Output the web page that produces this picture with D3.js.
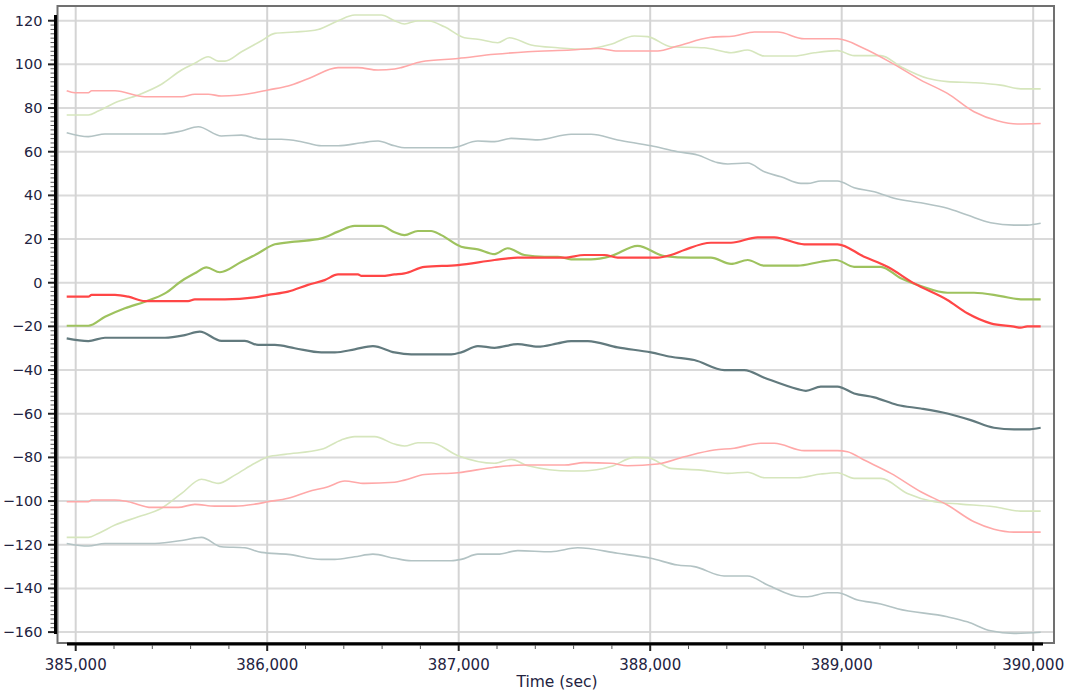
<!DOCTYPE html>
<html>
<head>
<meta charset="utf-8">
<script src="https://cdn.jsdelivr.net/npm/d3@7"></script>
<style>
  html, body { margin: 0; padding: 0; background: #ffffff; }
  svg { display: block; }
  text { font-family: "DejaVu Sans", Verdana, sans-serif; fill: #23233f; }
</style>
</head>
<body>
<svg id="chart" width="1071" height="696"></svg>
<script>
// ---------- data (time in sec, value) ----------
const xTicks = [385000, 386000, 387000, 388000, 389000, 390000];
const yTicks = [-160, -140, -120, -100, -80, -60, -40, -20, 0, 20, 40, 60, 80, 100, 120];
const xLabel = "Time (sec)";

const redMid = [[384953,-6.4],[385066,-6.4],[385083,-5.6],[385205,-5.6],[385275,-6.4],[385361,-8.4],[385587,-8.4],[385622,-7.6],[385779,-7.6],[385935,-6.7],[386005,-5.6],[386109,-4.1],[386213,-1.0],[386300,1.2],[386370,3.8],[386474,3.8],[386492,3.1],[386596,3.1],[386665,3.8],[386717,4.3],[386822,7.3],[386996,8.1],[387187,10.4],[387308,11.5],[387552,11.5],[387656,12.7],[387761,12.7],[387830,11.5],[388039,11.5],[388108,12.7],[388178,15.0],[388317,18.3],[388422,18.3],[388561,20.8],[388648,20.8],[388804,17.6],[388978,17.6],[389117,11.9],[389239,7.3],[389378,-0.3],[389552,-7.9],[389656,-14.0],[389778,-18.6],[389900,-20.1],[389935,-20.6],[389969,-20.0],[390039,-20.0]];
const redUpper = [[384953,87.9],[384996,87.0],[385066,87.0],[385083,87.9],[385205,87.9],[385361,85.2],[385553,85.2],[385622,86.3],[385692,86.3],[385761,85.5],[385935,87.0],[386005,88.3],[386109,90.1],[386213,93.4],[386370,98.5],[386474,98.5],[386579,97.4],[386665,97.9],[386700,98.5],[386804,101.2],[386996,102.7],[387187,104.6],[387361,105.8],[387587,106.6],[387726,107.3],[387830,106.1],[388039,106.1],[388143,108.4],[388317,112.4],[388439,113.0],[388544,114.8],[388665,114.8],[388804,111.7],[388978,111.7],[389117,107.3],[389274,100.0],[389413,92.8],[389552,86.7],[389691,78.3],[389813,74.2],[389917,72.7],[390039,72.9]];
const redLower = [[384953,-100.3],[385066,-100.3],[385083,-99.5],[385205,-99.5],[385275,-100.3],[385396,-102.9],[385535,-102.9],[385622,-101.5],[385727,-102.3],[385831,-102.3],[385935,-101.4],[386005,-100.3],[386109,-98.7],[386213,-95.7],[386318,-93.4],[386405,-90.8],[386509,-91.9],[386665,-91.4],[386717,-90.4],[386822,-87.8],[386996,-87.0],[387187,-84.5],[387343,-83.5],[387552,-83.5],[387656,-82.4],[387795,-82.7],[387882,-83.8],[388039,-83.0],[388178,-79.7],[388334,-76.6],[388439,-75.8],[388578,-73.5],[388648,-73.5],[388804,-76.9],[388978,-76.9],[389030,-77.4],[389117,-81.2],[389257,-87.3],[389413,-95.7],[389552,-101.8],[389691,-109.5],[389795,-112.9],[389900,-114.2],[390039,-114.2]];

const greenMid = [[384953,-19.7],[385066,-19.7],[385153,-15.6],[385257,-11.7],[385361,-8.7],[385466,-4.9],[385553,0.8],[385622,4.3],[385683,7.0],[385753,4.8],[385866,9.6],[385953,13.5],[386040,17.6],[386144,18.8],[386283,20.3],[386370,23.4],[386457,26.0],[386596,26.0],[386665,23.1],[386717,21.8],[386787,23.7],[386856,23.7],[386909,21.8],[387013,16.5],[387100,15.3],[387187,13.1],[387256,15.8],[387343,12.7],[387448,11.9],[387517,11.9],[387587,10.7],[387691,10.7],[387795,12.2],[387934,16.9],[388074,12.2],[388213,11.5],[388317,11.5],[388422,8.6],[388509,10.4],[388596,7.8],[388770,7.8],[388891,9.6],[388970,10.4],[389065,7.3],[389204,7.3],[389309,2.0],[389413,-1.5],[389552,-4.6],[389691,-4.6],[389830,-6.1],[389935,-7.6],[390039,-7.6]];
const greenUpper = [[384953,76.8],[385066,76.8],[385118,78.6],[385205,82.4],[385327,86.0],[385448,90.9],[385553,97.4],[385622,100.5],[385692,103.5],[385744,101.5],[385779,101.5],[385866,105.8],[385970,110.8],[386040,114.2],[386144,114.8],[386266,116.0],[386370,120.0],[386457,122.6],[386596,122.6],[386665,120.0],[386717,118.5],[386787,120.0],[386839,120.0],[386926,117.2],[387030,112.2],[387100,111.5],[387204,109.9],[387265,112.2],[387378,108.9],[387517,107.6],[387656,106.9],[387795,109.2],[387917,113.0],[387987,112.7],[388108,108.1],[388282,107.6],[388386,105.8],[388422,105.3],[388509,106.6],[388596,103.8],[388752,103.8],[388857,105.3],[388978,106.3],[389065,104.0],[389204,104.0],[389309,98.9],[389448,93.6],[389552,92.1],[389691,91.6],[389830,90.5],[389935,88.8],[390039,88.8]];
const greenLower = [[384953,-116.6],[385066,-116.6],[385118,-114.8],[385205,-111.0],[385327,-107.2],[385448,-103.3],[385553,-96.5],[385657,-90.0],[385744,-91.9],[385831,-88.1],[385935,-82.7],[386005,-79.7],[386092,-78.6],[386283,-76.3],[386387,-72.0],[386457,-70.5],[386561,-70.5],[386665,-73.9],[386717,-74.8],[386787,-73.3],[386856,-73.3],[386996,-79.2],[387187,-82.7],[387274,-80.9],[387361,-83.8],[387587,-86.2],[387656,-86.2],[387795,-84.2],[387917,-80.0],[387987,-80.1],[388108,-85.0],[388265,-85.8],[388405,-87.3],[388509,-86.8],[388596,-89.3],[388770,-89.3],[388891,-87.6],[388978,-87.0],[389065,-89.6],[389204,-89.6],[389343,-96.5],[389483,-100.3],[389622,-101.4],[389795,-102.6],[389935,-104.6],[390039,-104.6]];

const grayMid = [[384953,-25.5],[385066,-26.7],[385153,-25.2],[385466,-25.2],[385570,-24.0],[385648,-22.4],[385761,-26.6],[385883,-26.6],[385953,-28.5],[386040,-28.5],[386144,-30.0],[386283,-31.9],[386353,-31.9],[386457,-30.5],[386552,-29.0],[386665,-31.9],[386752,-32.8],[386961,-32.8],[387013,-31.9],[387100,-29.0],[387187,-29.8],[387308,-28.1],[387413,-29.3],[387517,-27.8],[387587,-26.7],[387674,-26.7],[387830,-29.6],[388004,-31.9],[388108,-33.9],[388230,-35.4],[388387,-40.0],[388491,-40.0],[388596,-43.5],[388770,-48.7],[388813,-49.5],[388891,-47.6],[388978,-47.6],[389065,-50.7],[389170,-52.5],[389291,-56.0],[389413,-57.6],[389552,-59.9],[389674,-62.9],[389795,-66.4],[389900,-67.2],[389969,-67.2],[390039,-66.4]];
const grayUpper = [[384953,68.7],[385066,66.9],[385153,68.1],[385448,68.1],[385553,69.5],[385640,71.4],[385761,67.2],[385866,67.6],[385970,65.7],[386074,65.7],[386179,64.6],[386283,62.7],[386370,62.7],[386492,64.1],[386579,64.9],[386665,62.7],[386717,61.8],[386961,61.8],[387100,64.9],[387187,64.6],[387274,66.1],[387413,65.4],[387587,68.0],[387691,68.0],[387830,65.4],[388004,62.7],[388143,60.0],[388247,58.5],[388352,55.0],[388405,54.4],[388509,54.8],[388596,50.8],[388683,48.5],[388787,45.5],[388822,45.5],[388891,46.6],[388978,46.6],[389065,43.5],[389170,41.7],[389274,38.7],[389413,36.6],[389552,34.1],[389656,31.0],[389778,27.5],[389900,26.4],[389969,26.4],[390039,27.2]];
const grayLower = [[384953,-119.4],[385066,-120.6],[385153,-119.4],[385414,-119.4],[385570,-117.8],[385657,-116.6],[385761,-120.9],[385883,-121.4],[385970,-123.5],[386109,-124.4],[386283,-126.7],[386353,-126.7],[386457,-125.5],[386552,-124.3],[386665,-126.2],[386752,-127.3],[386961,-127.3],[387013,-126.7],[387100,-124.3],[387204,-124.3],[387308,-122.7],[387482,-123.2],[387621,-121.4],[387830,-123.9],[388004,-126.2],[388143,-129.3],[388230,-130.0],[388386,-134.3],[388509,-134.3],[388613,-138.4],[388787,-143.8],[388822,-143.8],[388926,-142.0],[388978,-142.0],[389083,-145.3],[389204,-147.1],[389291,-149.3],[389552,-153.0],[389656,-155.3],[389778,-159.4],[389900,-160.6],[390039,-160.1]];

// ---------- layout ----------
const svg = d3.select("#chart");
const plot = { left: 57.5, right: 1054, top: 6, bottom: 643 };

const x = d3.scaleLinear().domain([385000, 390000]).range([75.7, 1033.2]);
const y = d3.scaleLinear().domain([-160, 120]).range([632.1, 20.7]);

// gridlines
const grid = svg.append("g");
grid.selectAll("line.h").data(yTicks).join("line")
  .attr("x1", plot.left).attr("x2", plot.right)
  .attr("y1", d => y(d)).attr("y2", d => y(d))
  .attr("stroke", "#dadada").attr("stroke-width", 2);
grid.selectAll("line.v").data(xTicks).join("line")
  .attr("x1", d => x(d)).attr("x2", d => x(d))
  .attr("y1", plot.top).attr("y2", plot.bottom)
  .attr("stroke", "#d4d4d4").attr("stroke-width", 2);

// frame
svg.append("rect")
  .attr("x", plot.left).attr("y", plot.top)
  .attr("width", plot.right - plot.left).attr("height", plot.bottom - plot.top)
  .attr("fill", "none").attr("stroke", "#707070").attr("stroke-width", 2);

// series
const line = d3.line().curve(d3.curveMonotoneX).x(d => x(d[0])).y(d => y(d[1]));
const series = [
  { data: grayUpper, color: "#b3c3c4", w: 1.6 },
  { data: grayLower, color: "#b3c3c4", w: 1.6 },
  { data: greenUpper, color: "#d6e6bd", w: 1.6 },
  { data: greenLower, color: "#d6e6bd", w: 1.6 },
  { data: redUpper, color: "#ffa8a8", w: 1.6 },
  { data: redLower, color: "#ffa8a8", w: 1.6 },
  { data: grayMid, color: "#627a7e", w: 2.2 },
  { data: greenMid, color: "#9ec25e", w: 2.2 },
  { data: redMid, color: "#ff4646", w: 2.2 }
];
svg.append("g").selectAll("path").data(series).join("path")
  .attr("d", d => line(d.data))
  .attr("fill", "none")
  .attr("stroke", d => d.color)
  .attr("stroke-width", d => d.w)
  .attr("stroke-linejoin", "round");

// y axis
const yAxis = svg.append("g");
yAxis.append("line")
  .attr("x1", 55.5).attr("x2", 55.5).attr("y1", 15).attr("y2", 634)
  .attr("stroke", "#000").attr("stroke-width", 3);
const yMinor = d3.range(-160, 121, 2).filter(v => v % 20 !== 0);
yAxis.selectAll("line.minor").data(yMinor).join("line")
  .attr("x1", 50.5).attr("x2", 54)
  .attr("y1", d => y(d)).attr("y2", d => y(d))
  .attr("stroke", "#555").attr("stroke-width", 1);
yAxis.selectAll("line.major").data(yTicks).join("line")
  .attr("x1", 48).attr("x2", 54)
  .attr("y1", d => y(d)).attr("y2", d => y(d))
  .attr("stroke", "#222").attr("stroke-width", 2);
yAxis.selectAll("text").data(yTicks).join("text")
  .attr("x", 42.5).attr("y", d => y(d))
  .attr("text-anchor", "end").attr("dominant-baseline", "central")
  .style("font-size", "14.5px")
  .text(d => d3.format("d")(d));

// x axis
const xAxis = svg.append("g");
xAxis.append("line")
  .attr("x1", 67).attr("x2", 1043).attr("y1", 644).attr("y2", 644)
  .attr("stroke", "#000").attr("stroke-width", 3);
const xMinor = d3.range(385000, 390001, 200).filter(v => v % 1000 !== 0);
xAxis.selectAll("line.minor").data(xMinor).join("line")
  .attr("x1", d => x(d)).attr("x2", d => x(d))
  .attr("y1", 645).attr("y2", 649)
  .attr("stroke", "#555").attr("stroke-width", 1);
xAxis.selectAll("line.major").data(xTicks).join("line")
  .attr("x1", d => x(d)).attr("x2", d => x(d))
  .attr("y1", 645).attr("y2", 651)
  .attr("stroke", "#222").attr("stroke-width", 2);
xAxis.selectAll("text").data(xTicks).join("text")
  .attr("x", d => x(d)).attr("y", 670)
  .attr("text-anchor", "middle")
  .style("font-size", "15px")
  .text(d => d3.format(",")(d));
svg.append("text")
  .attr("x", 557).attr("y", 687)
  .attr("text-anchor", "middle")
  .style("font-size", "15.5px")
  .text(xLabel);
</script>
</body>
</html>
